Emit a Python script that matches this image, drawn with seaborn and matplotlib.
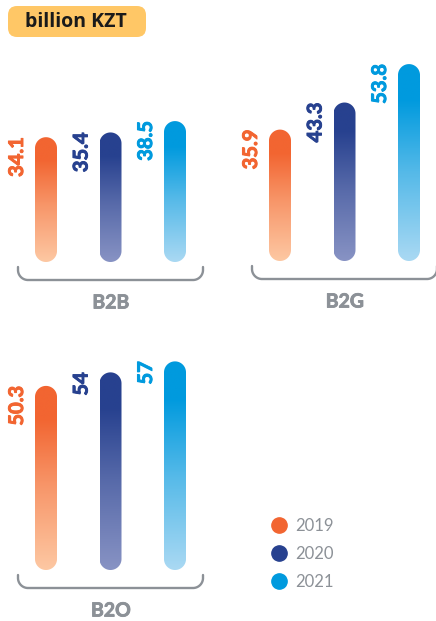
import numpy as np
import pandas as pd
import matplotlib
matplotlib.use("Agg")
import matplotlib.pyplot as plt
import seaborn as sns
from matplotlib.path import Path
from matplotlib.patches import PathPatch, FancyBboxPatch
from matplotlib.colors import LinearSegmentedColormap, to_rgb
from matplotlib.lines import Line2D
import matplotlib.transforms as mtransforms
import matplotlib.patheffects as pe

# ---------------- data ----------------
segments = ["B2B", "B2G", "B2O"]
years = ["2019", "2020", "2021"]
values_2019 = [34.1, 35.9, 50.3]
values_2020 = [35.4, 43.3, 54.0]
values_2021 = [38.5, 53.8, 57.0]
title_text = "billion KZT"

df = pd.DataFrame({
    "segment": np.repeat(segments, 3),
    "year": years * 3,
    "value": [v for trio in zip(values_2019, values_2020, values_2021) for v in trio],
})

# ---------------- style ----------------
colors_top = {"2019": "#F26531", "2020": "#27418F", "2021": "#009ADE"}
colors_bottom = {"2019": "#FDC8A3", "2020": "#8893C4", "2021": "#AAD9F3"}
GRAY = "#8C9197"

sns.set_theme(style="white")
plt.rcParams["font.family"] = ["Lato", "DejaVu Sans"]

W, H = 436, 621
fig = plt.figure(figsize=(W / 100, H / 100), dpi=100)
fig.patch.set_facecolor("white")

PX_PER_CAT = 64.5
PX_PER_UNIT = 3.66
BAR_PX = 22

panels = {
    "B2B": dict(c0=46, base=262, top=40),
    "B2G": dict(c0=280, base=261, top=40),
    "B2O": dict(c0=46, base=570, top=340),
}

ident = mtransforms.IdentityTransform()


def semicircle(cx, cy, r, a0, a1, n=40):
    t = np.linspace(a0, a1, n)
    return np.column_stack([cx + r * np.cos(t), cy + r * np.sin(t)])


def make_cmap(year):
    top = np.array(to_rgb(colors_top[year]))
    bot = np.array(to_rgb(colors_bottom[year]))
    mid = 0.5 * top + 0.5 * bot
    return LinearSegmentedColormap.from_list(
        "g" + year, [(0, bot), (0.45, mid), (0.82, top), (1, top)])


for seg in segments:
    p = panels[seg]
    c0, base, top = p["c0"], p["base"], p["top"]
    xmin, xmax = -0.55, 2.45
    left = c0 + xmin * PX_PER_CAT
    right = c0 + xmax * PX_PER_CAT
    ymax = (base - top) / PX_PER_UNIT
    ax = fig.add_axes([left / W, 1 - base / H, (right - left) / W, (base - top) / H])
    sub = df[df["segment"] == seg]
    sns.barplot(data=sub, x="year", y="value", hue="year", order=years,
                hue_order=years, palette=colors_top, width=BAR_PX / PX_PER_CAT,
                dodge=False, legend=False, ax=ax, errorbar=None)
    ax.set_xlim(xmin, xmax)
    ax.set_ylim(0, ymax)
    ax.axis("off")

    inv = ax.transData.inverted()
    for patch in list(ax.patches):
        x0 = patch.get_x()
        w = patch.get_width()
        h = patch.get_height()
        if h <= 0 or np.isnan(h):
            continue
        patch.set_visible(False)
        idx = int(round(x0 + w / 2))
        year = years[idx]
        (xl, yb), (xr, yt) = ax.transData.transform([(x0, 0), (x0 + w, h)])
        r = (xr - xl) / 2
        cx = (xl + xr) / 2
        pts = np.vstack([
            [[xl, yb + r], [xl, yt - r]],
            semicircle(cx, yt - r, r, np.pi, 0),
            [[xr, yt - r], [xr, yb + r]],
            semicircle(cx, yb + r, r, 0, -np.pi),
        ])
        dpts = inv.transform(pts)
        clip = PathPatch(Path(np.vstack([dpts, dpts[:1]])), transform=ax.transData,
                         facecolor="none", edgecolor="none")
        ax.add_patch(clip)
        grad = np.linspace(0, 1, 256).reshape(-1, 1)
        im = ax.imshow(grad, extent=(x0, x0 + w, 0, h), origin="lower",
                       cmap=make_cmap(year), aspect="auto", zorder=3,
                       interpolation="bilinear")
        im.set_clip_path(clip)
        label = f"{h:g}"
        tr = mtransforms.offset_copy(ax.transData, fig=fig, x=-19, y=0, units="dots")
        ax.text(x0 + w / 2, h, label, rotation=90, ha="right", va="top",
                color=colors_top[year], fontsize=14.5, fontweight="bold",
                transform=tr, zorder=4,
                path_effects=[pe.withStroke(linewidth=0.7, foreground=colors_top[year])])
    ax.set_xlim(xmin, xmax)
    ax.set_ylim(0, ymax)

    # bracket below bars
    x1, x2 = c0 - 28, c0 + 157
    ytop_b, ybot_b = base + 5, base + 18
    rr = 10
    yt_d, yb_d = H - ytop_b, H - ybot_b
    bpts = np.vstack([
        [[x1, yt_d], [x1, yb_d + rr]],
        semicircle(x1 + rr, yb_d + rr, rr, np.pi, 1.5 * np.pi),
        [[x2 - rr, yb_d]],
        semicircle(x2 - rr, yb_d + rr, rr, 1.5 * np.pi, 2 * np.pi),
        [[x2, yt_d]],
    ])
    fig.add_artist(Line2D(bpts[:, 0] / W, bpts[:, 1] / H, transform=fig.transFigure,
                          color=GRAY, lw=1.7, solid_capstyle="round"))
    fig.text((c0 + 65) / W, 1 - (base + 41) / H, seg, ha="center", va="center",
             color=GRAY, fontsize=14, fontweight="bold",
             path_effects=[pe.withStroke(linewidth=0.6, foreground=GRAY)])

# ---------------- title box ----------------
box = FancyBboxPatch((8, H - 37), 138, 31,
                     boxstyle="round,pad=0,rounding_size=9",
                     transform=ident, facecolor="#FFC766", edgecolor="none")
fig.add_artist(box)
fig.text(76 / W, 1 - 22 / H, title_text, ha="center", va="center",
         fontsize=14, fontweight="bold", color="#1A1A1A",
         family=["Open Sans", "DejaVu Sans"])

# ---------------- legend ----------------
handles = [Line2D([0], [0], marker="o", ls="", markersize=11,
                  markerfacecolor=colors_top[y], markeredgecolor=colors_top[y])
           for y in years]
fig.legend(handles, years, loc="upper left", bbox_to_anchor=(262 / W, 1 - 510 / H),
           frameon=False, fontsize=12, labelcolor=GRAY, handletextpad=0.5,
           labelspacing=0.72, handlelength=1.0, borderpad=0)

fig.savefig("out.png", dpi=100)
